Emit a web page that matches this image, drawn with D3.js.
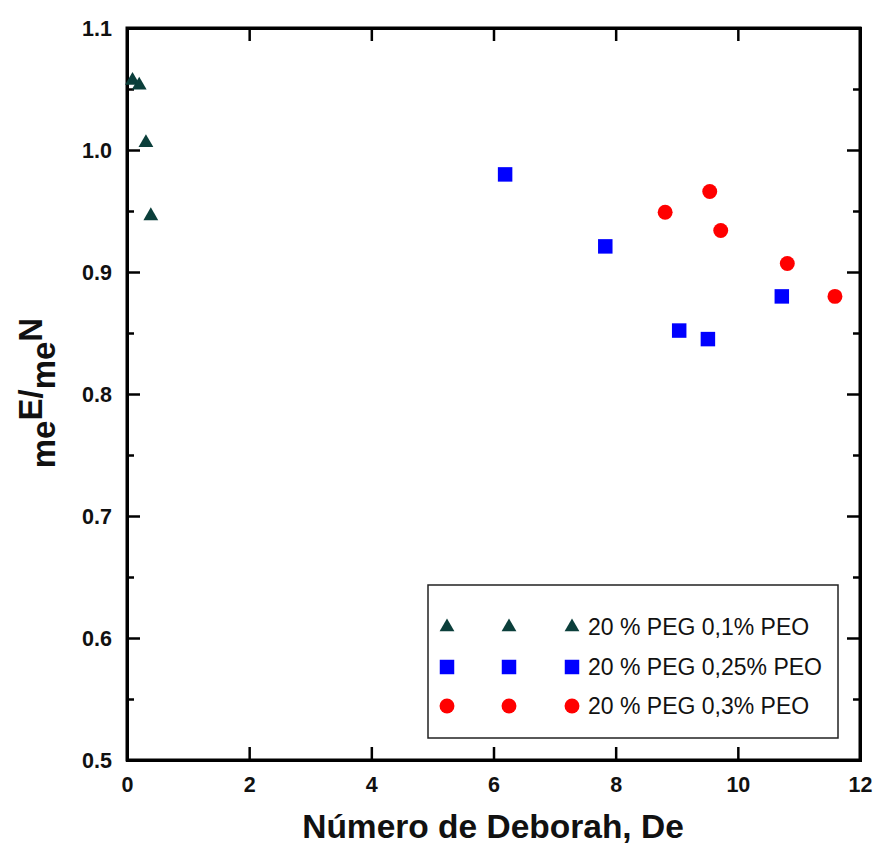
<!DOCTYPE html>
<html><head><meta charset="utf-8">
<script src="https://cdn.jsdelivr.net/npm/d3@7"></script>
<style>body{margin:0;background:#fff;} svg{display:block;font-family:"Liberation Sans",Arial,sans-serif;}</style>
</head><body>
<script>
const seriesNames = ["20 % PEG 0,1% PEO", "20 % PEG 0,25% PEO", "20 % PEG 0,3% PEO"];
const pegPeo01X = [0.09, 0.20, 0.31, 0.39];
const pegPeo01Y = [1.057, 1.053, 1.006, 0.946];
const pegPeo025X = [6.19, 7.83, 9.04, 9.51, 10.72];
const pegPeo025Y = [0.980, 0.921, 0.852, 0.845, 0.880];
const pegPeo03X = [8.81, 9.54, 9.72, 10.81, 11.59];
const pegPeo03Y = [0.949, 0.966, 0.934, 0.907, 0.880];
const xTicks = [0, 2, 4, 6, 8, 10, 12];
const yTicks = [0.5, 0.6, 0.7, 0.8, 0.9, 1.0, 1.1];
const yMinorTicks = [0.55, 0.65, 0.75, 0.85, 0.95, 1.05];

(function(){
const W = 873, H = 846;
const m = {l:127, r:860, t:28, b:760};
const svg = d3.select("body").append("svg").attr("width", W).attr("height", H);
const x = d3.scaleLinear().domain([0,12]).range([m.l, m.r]);
const y = d3.scaleLinear().domain([0.5,1.1]).range([m.b, m.t]);

const fmtY = d3.format(".1f");
svg.append("g").attr("transform", `translate(0,${m.b})`)
  .call(d3.axisBottom(x).tickValues(xTicks).tickSize(-13).tickPadding(17).tickFormat(d3.format("d")));
svg.append("g").attr("transform", `translate(0,${m.t})`)
  .call(d3.axisTop(x).tickValues(xTicks).tickSize(-13).tickFormat(""));
const gLeft = svg.append("g").attr("transform", `translate(${m.l},0)`)
  .call(d3.axisLeft(y).tickValues(yTicks).tickSize(-13).tickPadding(15).tickFormat(fmtY));
svg.append("g").attr("transform", `translate(${m.r},0)`)
  .call(d3.axisRight(y).tickValues(yTicks).tickSize(-13).tickFormat(""));
svg.append("g").attr("transform", `translate(${m.l},0)`)
  .call(d3.axisLeft(y).tickValues(yMinorTicks).tickSize(-7).tickFormat(""));
svg.append("g").attr("transform", `translate(${m.r},0)`)
  .call(d3.axisRight(y).tickValues(yMinorTicks).tickSize(-7).tickFormat(""));
svg.selectAll(".domain").attr("stroke","#000").attr("stroke-width",3);
svg.selectAll(".tick line").attr("stroke","#000").attr("stroke-width",2.5);
svg.selectAll(".tick text").attr("font-size","21.5px").attr("font-weight","bold").attr("fill","#111")
  .attr("font-family","'Liberation Sans',Arial,sans-serif");
gLeft.selectAll(".tick text").attr("dy","0.36em");
svg.append("rect").attr("x",m.l).attr("y",m.t).attr("width",m.r-m.l).attr("height",m.b-m.t)
  .attr("fill","none").attr("stroke","#000").attr("stroke-width",3);

svg.append("text").attr("x", 493).attr("y", 838).attr("text-anchor","middle")
  .attr("font-size","33.5px").attr("font-weight","bold").attr("fill","#111").text("Número de Deborah, De");
const yt = svg.append("text").attr("transform","translate(55,393) rotate(-90)").attr("text-anchor","middle")
  .attr("font-size","33px").attr("font-weight","bold").attr("fill","#111");
yt.append("tspan").text("m");
yt.append("tspan").text("e");
yt.append("tspan").attr("dy",-13).text("E/");
yt.append("tspan").attr("dy",13).text("m");
yt.append("tspan").text("e");
yt.append("tspan").attr("dy",-13).text("N");

const triColor = "#0b3f3b", sqColor = "#0000ff", ciColor = "#ff0000";
const symTri = d3.symbol().type(d3.symbolTriangle).size(95);
const symSq = d3.symbol().type(d3.symbolSquare).size(210);
const symCi = d3.symbol().type(d3.symbolCircle).size(175);
const series = [
  {xs:pegPeo01X, ys:pegPeo01Y, sym:symTri, color:triColor},
  {xs:pegPeo025X, ys:pegPeo025Y, sym:symSq, color:sqColor},
  {xs:pegPeo03X, ys:pegPeo03Y, sym:symCi, color:ciColor}
];
series.forEach(s => {
  svg.append("g").selectAll("path").data(s.xs.map((v,i)=>[v, s.ys[i]])).join("path")
    .attr("d", s.sym).attr("fill", s.color)
    .attr("transform", d => `translate(${x(d[0])},${y(d[1])})`);
});

const lg = svg.append("g");
lg.append("rect").attr("x",428).attr("y",585).attr("width",410).attr("height",153)
  .attr("fill","#fff").attr("stroke","#222").attr("stroke-width",1.5);
const rowY = [627, 667, 706];
const symX = [447, 509, 572];
series.forEach((s,i) => {
  symX.forEach(sx => {
    lg.append("path").attr("d", s.sym).attr("fill", s.color)
      .attr("transform", `translate(${sx},${rowY[i]})`);
  });
  lg.append("text").attr("x",588).attr("y",rowY[i]).attr("dy","0.36em")
    .attr("font-size","23px").attr("fill","#111").text(seriesNames[i]);
});
})();
</script>
</body></html>
